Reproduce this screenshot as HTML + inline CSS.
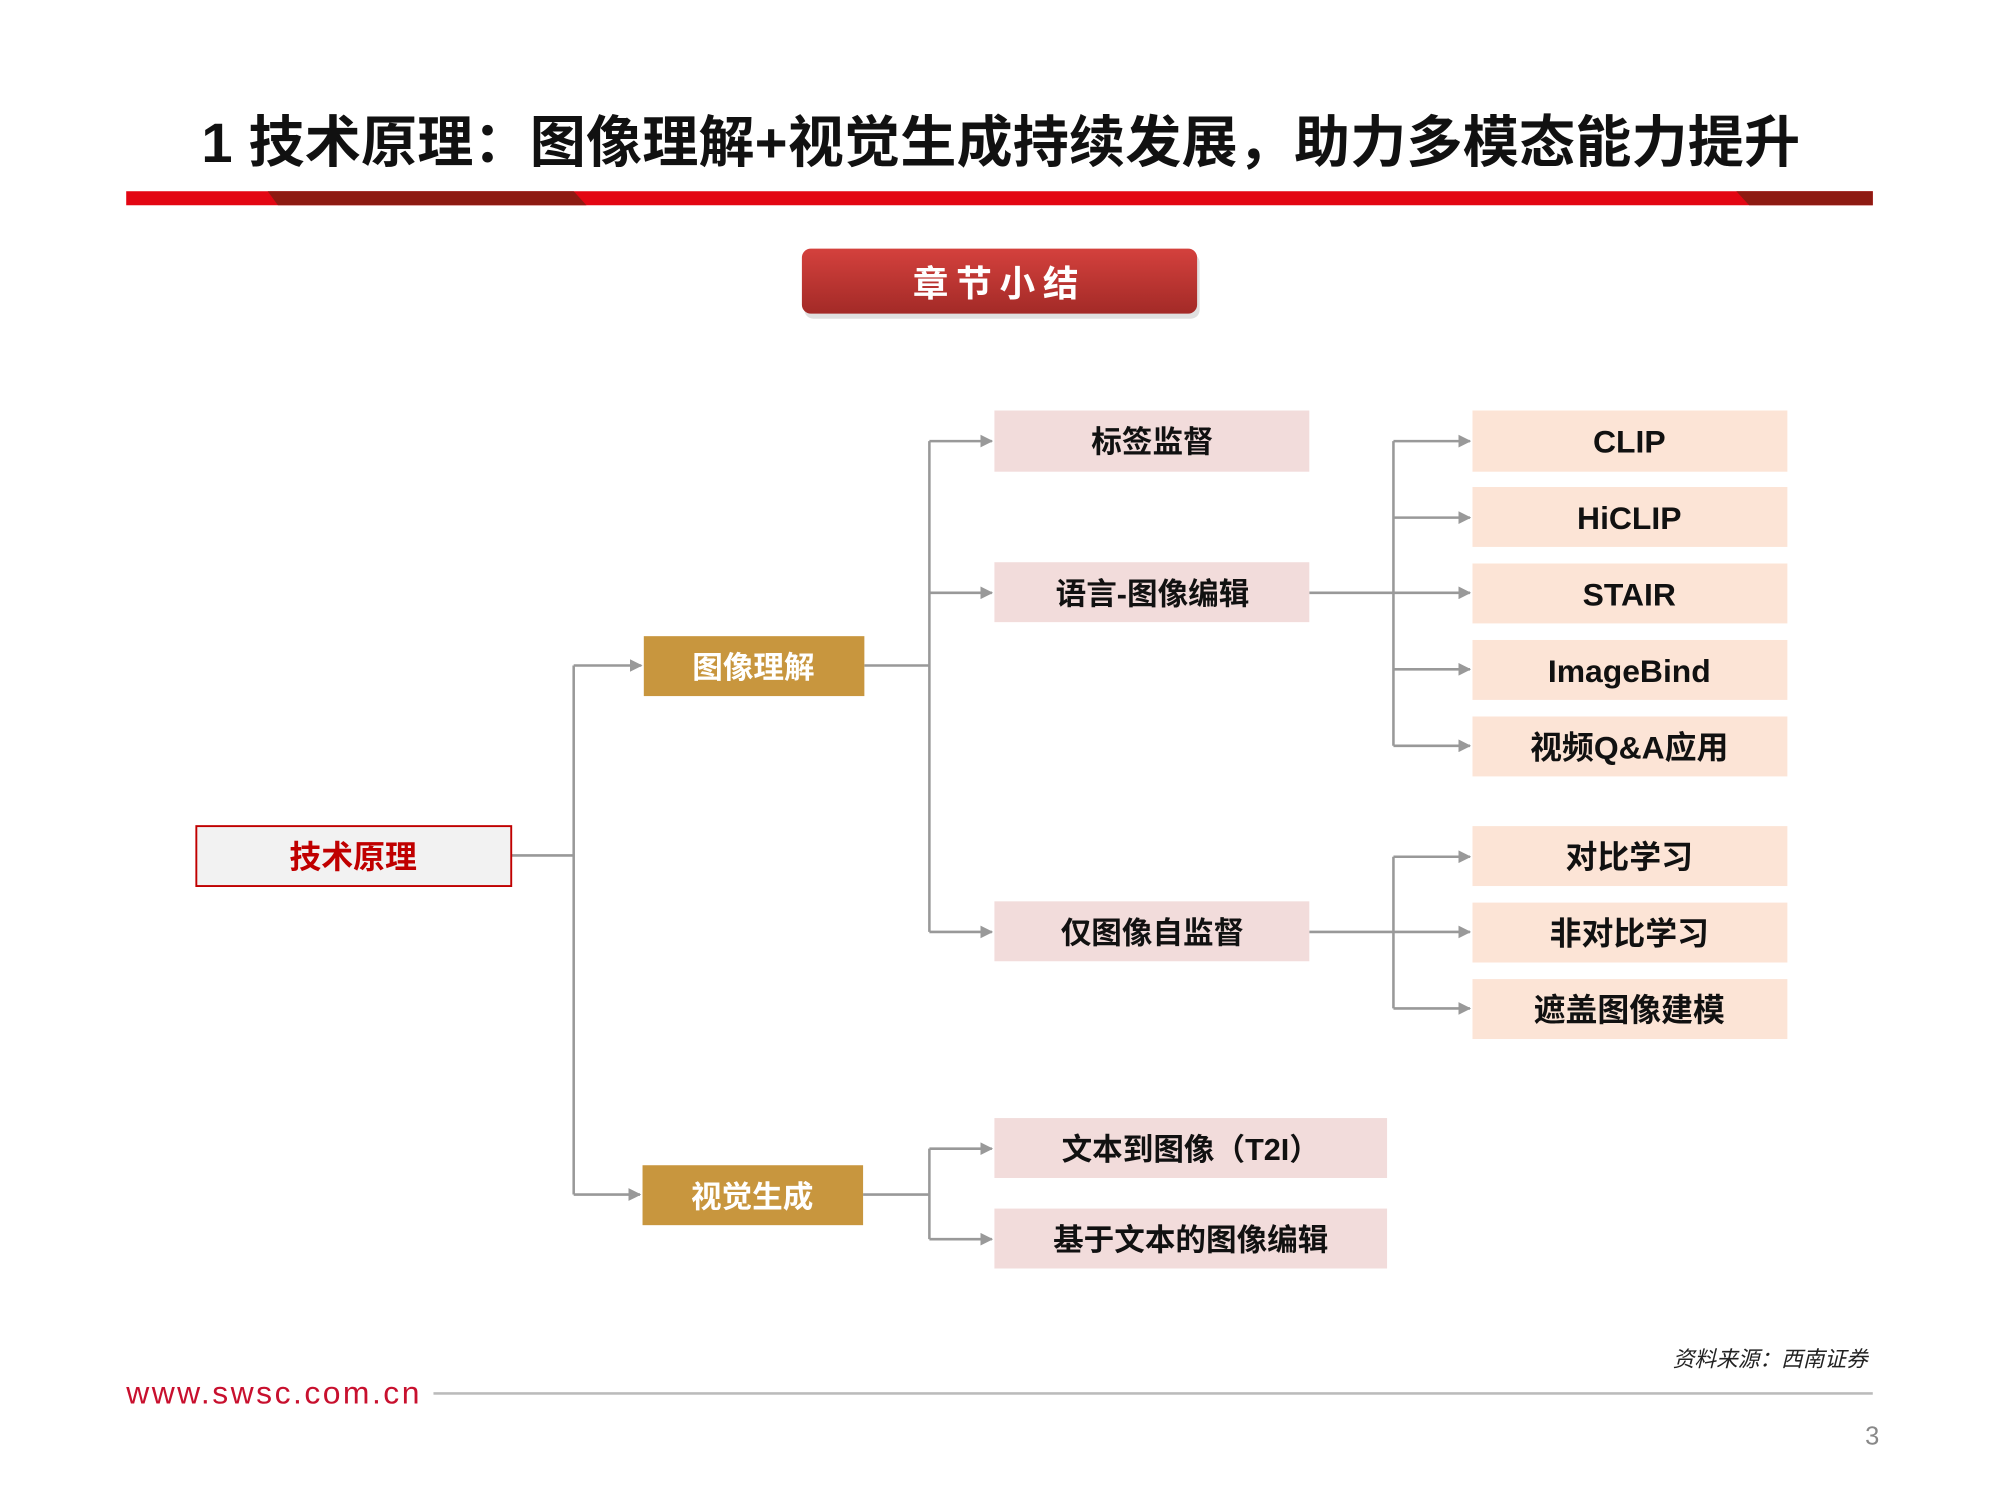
<!DOCTYPE html>
<html><head><meta charset="utf-8"><style>
html,body{margin:0;padding:0;background:#fff;width:1999px;height:1499px;overflow:hidden}
svg text{font-family:"Liberation Sans","Noto Sans CJK SC",sans-serif;font-weight:bold}
</style></head><body>
<svg width="1999" height="1499" viewBox="0 0 1568 1175.8" preserveAspectRatio="none" xmlns="http://www.w3.org/2000/svg">
<defs>
<linearGradient id="btn" x1="0" y1="0" x2="0" y2="1"><stop offset="0" stop-color="#d4413d"/><stop offset="1" stop-color="#a32a27"/></linearGradient>
<marker id="ar" markerWidth="10" markerHeight="10" refX="9" refY="5" orient="auto" markerUnits="userSpaceOnUse"><path d="M0,0 L10,5 L0,10 z" fill="#999"/></marker>
</defs>
<text x="785" y="127" font-size="44" text-anchor="middle" fill="#111" textLength="1254">1 技术原理：图像理解+视觉生成持续发展，助力多模态能力提升</text>
<rect x="99" y="150" width="1370" height="11" fill="#e30613"/>
<polygon points="210,150 450,150 460,161 218,161" fill="#8e1a12"/>
<polygon points="1362,150 1469,150 1469,161 1372,161" fill="#8e1a12"/>
<rect x="631" y="199" width="310" height="51" rx="7" fill="#ccc" opacity="0.6"/>
<rect x="629" y="195" width="310" height="51" rx="7" fill="url(#btn)"/>
<text x="784" y="232" font-size="28" text-anchor="middle" fill="#fff" letter-spacing="6">章节小结</text>
<g stroke="#999" stroke-width="2" fill="none">
<path d="M401,671 H450 M450,522 V937"/>
<path d="M450,522 H503" marker-end="url(#ar)"/><path d="M450,937 H502" marker-end="url(#ar)"/>
<path d="M678,522 H729 M729,346 V731"/>
<path d="M729,346 H778" marker-end="url(#ar)"/><path d="M729,465 H778" marker-end="url(#ar)"/><path d="M729,731 H778" marker-end="url(#ar)"/>
<path d="M1027,465 H1093 M1093,346 V585"/>
<path d="M1093,346 H1153" marker-end="url(#ar)"/><path d="M1093,406 H1153" marker-end="url(#ar)"/><path d="M1093,465 H1153" marker-end="url(#ar)"/><path d="M1093,525 H1153" marker-end="url(#ar)"/><path d="M1093,585 H1153" marker-end="url(#ar)"/>
<path d="M1027,731 H1093 M1093,672 V791"/>
<path d="M1093,672 H1153" marker-end="url(#ar)"/><path d="M1093,731 H1153" marker-end="url(#ar)"/><path d="M1093,791 H1153" marker-end="url(#ar)"/>
<path d="M677,937 H729 M729,901 V972"/>
<path d="M729,901 H778" marker-end="url(#ar)"/><path d="M729,972 H778" marker-end="url(#ar)"/>
</g>
<rect x="154" y="648" width="247" height="47" fill="#f2f2f2" stroke="#c00000" stroke-width="1.5"/>
<text x="277" y="681" font-size="25" text-anchor="middle" fill="#c00000">技术原理</text>
<rect x="505" y="499" width="173" height="47" fill="#c8963e"/>
<text x="591" y="532" font-size="24" text-anchor="middle" fill="#fff">图像理解</text>
<rect x="504" y="914" width="173" height="47" fill="#c8963e"/>
<text x="590" y="947" font-size="24" text-anchor="middle" fill="#fff">视觉生成</text>
<g fill="#f2dcdb"><rect x="780" y="322" width="247" height="48"/><rect x="780" y="441" width="247" height="47"/><rect x="780" y="707" width="247" height="47"/><rect x="780" y="877" width="308" height="47"/><rect x="780" y="948" width="308" height="47"/></g>
<g font-size="24" text-anchor="middle" fill="#111">
<text x="904" y="355">标签监督</text><text x="904" y="474">语言-图像编辑</text><text x="904" y="740">仅图像自监督</text><text x="934" y="910">文本到图像（T2I）</text><text x="934" y="981">基于文本的图像编辑</text>
</g>
<g fill="#fce4d6"><rect x="1155" y="322" width="247" height="48"/><rect x="1155" y="382" width="247" height="47"/><rect x="1155" y="442" width="247" height="47"/><rect x="1155" y="502" width="247" height="47"/><rect x="1155" y="562" width="247" height="47"/><rect x="1155" y="648" width="247" height="47"/><rect x="1155" y="708" width="247" height="47"/><rect x="1155" y="768" width="247" height="47"/></g>
<g font-size="25" text-anchor="middle" fill="#111">
<text x="1278" y="355">CLIP</text><text x="1278" y="415">HiCLIP</text><text x="1278" y="475">STAIR</text><text x="1278" y="535">ImageBind</text><text x="1278" y="595">视频Q&amp;A应用</text><text x="1278" y="681">对比学习</text><text x="1278" y="741">非对比学习</text><text x="1278" y="801">遮盖图像建模</text>
</g>
<text x="1465" y="1072" font-size="17" text-anchor="end" fill="#222" font-style="italic" style="font-weight:normal">资料来源：西南证券</text>
<text x="99" y="1101" font-size="25" fill="#c8102e" textLength="230" style="font-weight:normal">www.swsc.com.cn</text>
<rect x="340" y="1092" width="1129" height="2" fill="#bbb"/>
<text x="1463" y="1133" font-size="20" fill="#888" style="font-weight:normal">3</text>
</svg>
</body></html>
